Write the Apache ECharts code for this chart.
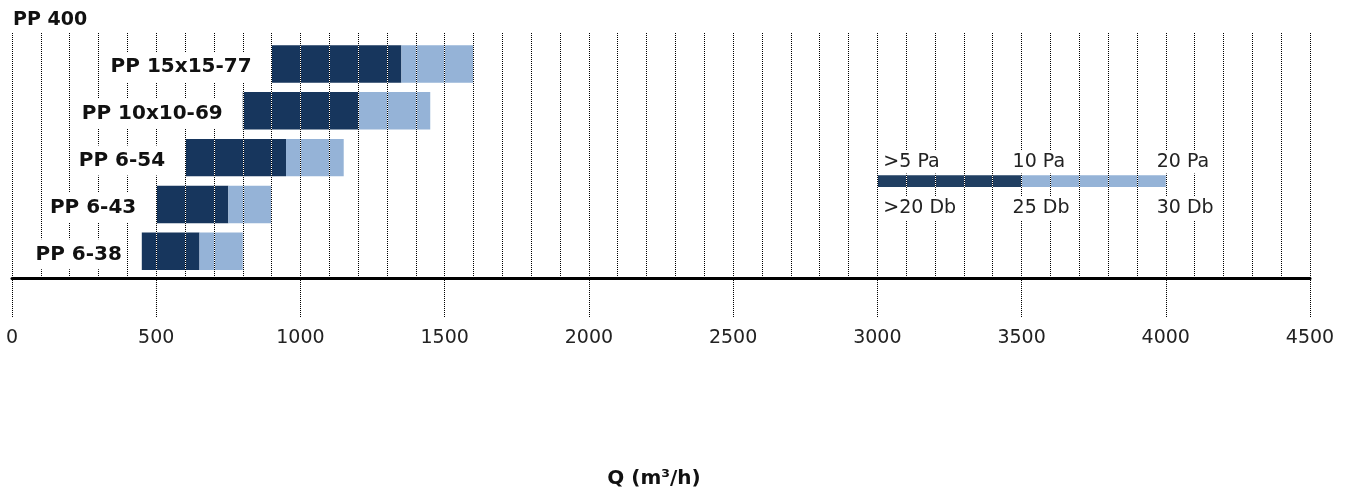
<!DOCTYPE html>
<html>
<head>
<meta charset="utf-8">
<script src="https://cdn.jsdelivr.net/npm/echarts@6/dist/echarts.min.js"></script>
<style>
html,body{margin:0;padding:0;background:#fff;}
#chart{width:1352px;height:496px;}
</style>
</head>
<body>
<div id="chart"></div>
<script>
// ---- data ----
const chartTitle = 'PP 400';
const models = ['PP 15x15-77', 'PP 10x10-69', 'PP 6-54', 'PP 6-43', 'PP 6-38'];
const qStart = [900, 800, 600, 500, 450];     // Q at >5 Pa / >20 Db
const q10Pa = [1350, 1200, 950, 750, 650];    // Q at 10 Pa / 25 Db
const qEnd = [1600, 1450, 1150, 900, 800];    // Q at 20 Pa / 30 Db
const legendQ = [3000, 3500, 4000];
const legendPa = ['>5 Pa', '10 Pa', '20 Pa'];
const legendDb = ['>20 Db', '25 Db', '30 Db'];
const xMin = 0, xMax = 4500, xLabelStep = 500, xGridStep = 100;
const xTitle = 'Q (m³/h)';

// ---- style ----
const DARK = '#17365d';
const LIGHT = '#95b3d7';
const FONT = '"DejaVu Sans", Verdana, sans-serif';
const n = models.length;
const legendRow = 1.5; // between PP 6-54 and PP 6-43 rows

const barData = models.map((m, i) => [qStart[i], q10Pa[i], qEnd[i], n - 1 - i, m]);

const chart = echarts.init(document.getElementById('chart'));

const baseX = {
  type: 'value', min: xMin, max: xMax, position: 'bottom', gridIndex: 0,
  axisLine: { show: false, onZero: false }, axisTick: { show: false }, axisLabel: { show: false }
};

chart.setOption({
  animation: false,
  backgroundColor: '#fff',
  title: {
    text: chartTitle, left: 8, top: 6,
    textStyle: { fontFamily: FONT, fontSize: 19, fontWeight: 'bold', color: '#111' }
  },
  grid: [
    { left: 12, right: 42, top: 33, bottom: 217.5, containLabel: false },
    { left: 12, right: 42, top: 280, height: 37, containLabel: false }
  ],
  xAxis: [
    Object.assign({}, baseX, { interval: xGridStep, z: 3,
      splitLine: { show: true, lineStyle: { color: '#ffffff', width: 1, type: 'solid' } } }),
    Object.assign({}, baseX, { interval: xGridStep, z: 4,
      splitLine: { show: true, lineStyle: { color: '#000000', width: 1, type: 'dotted' } } }),
    {
      type: 'value', min: xMin, max: xMax, interval: xLabelStep, position: 'bottom', gridIndex: 0, z: 4,
      axisLine: { show: true, onZero: false, lineStyle: { color: '#000', width: 3 } },
      axisTick: { show: false },
      axisLabel: { show: true, margin: 50, fontFamily: FONT, fontSize: 19, color: '#222',
        formatter: function (v) { return String(v); } },
      splitLine: { show: false },
      name: xTitle, nameLocation: 'middle', nameGap: 190,
      nameTextStyle: { fontFamily: FONT, fontSize: 20, fontWeight: 'bold', color: '#111', padding: [0, 14, 0, 0] }
    },
    Object.assign({}, baseX, { gridIndex: 1, interval: xLabelStep, z: 4,
      splitLine: { show: true, lineStyle: { color: '#000000', width: 1, type: 'dotted' } } })
  ],
  yAxis: [
    { type: 'value', gridIndex: 0, min: -0.58, max: 4.66, show: false, splitLine: { show: false } },
    { type: 'value', gridIndex: 1, min: 0, max: 1, show: false, splitLine: { show: false } }
  ],
  series: [
    {
      name: 'bars', type: 'custom', xAxisIndex: 2, yAxisIndex: 0, z: 2,
      encode: { x: [0, 1, 2], y: 3 },
      data: barData,
      renderItem: function (params, api) {
        const y = api.value(3);
        const s = api.coord([api.value(0), y]);
        const m = api.coord([api.value(1), y]);
        const e = api.coord([api.value(2), y]);
        const h = api.size([0, 1])[1] * 0.8;
        return { type: 'group', children: [
          { type: 'rect', shape: { x: s[0], y: s[1] - h / 2, width: m[0] - s[0], height: h }, style: { fill: DARK } },
          { type: 'rect', shape: { x: m[0], y: s[1] - h / 2, width: e[0] - m[0], height: h }, style: { fill: LIGHT } }
        ] };
      }
    },
    {
      name: 'labels', type: 'custom', xAxisIndex: 2, yAxisIndex: 0, z: 5,
      encode: { x: 0, y: 3 },
      data: barData,
      renderItem: function (params, api) {
        const s = api.coord([api.value(0), api.value(3)]);
        return {
          type: 'text', x: s[0] - 15, y: s[1] + 3,
          style: {
            text: barData[params.dataIndex][4], fill: '#111',
            font: 'bold 20px ' + FONT, align: 'right', verticalAlign: 'middle',
            backgroundColor: '#fff', padding: [5, 5, 5, 5]
          }
        };
      }
    },
    {
      name: 'legendBar', type: 'custom', xAxisIndex: 2, yAxisIndex: 0, z: 2,
      encode: { x: [0, 1, 2] },
      data: [[legendQ[0], legendQ[1], legendQ[2]]],
      renderItem: function (params, api) {
        const s = api.coord([api.value(0), legendRow]);
        const m = api.coord([api.value(1), legendRow]);
        const e = api.coord([api.value(2), legendRow]);
        const h = 11.7;
        return { type: 'group', children: [
          { type: 'rect', shape: { x: s[0], y: s[1] - h / 2, width: m[0] - s[0], height: h }, style: { fill: '#213f62' } },
          { type: 'rect', shape: { x: m[0], y: s[1] - h / 2, width: e[0] - m[0], height: h }, style: { fill: LIGHT } }
        ] };
      }
    },
    {
      name: 'legendText', type: 'custom', xAxisIndex: 2, yAxisIndex: 0, z: 5,
      encode: { x: 0 },
      data: legendQ.map((q, i) => [q, i]),
      renderItem: function (params, api) {
        const i = api.value(1);
        const p = api.coord([api.value(0), legendRow]);
        const dx = i === 0 ? 6 : -9;
        const st = { fill: '#222', font: '19px ' + FONT, align: 'left', verticalAlign: 'middle',
          backgroundColor: '#fff', padding: [2, 2, 2, 2] };
        return { type: 'group', children: [
          { type: 'text', x: p[0] + dx - 2, y: p[1] - 19, style: Object.assign({ text: legendPa[i] }, st) },
          { type: 'text', x: p[0] + dx - 2, y: p[1] + 27.5, style: Object.assign({ text: legendDb[i] }, st) }
        ] };
      }
    }
  ]
});
</script>
</body>
</html>
